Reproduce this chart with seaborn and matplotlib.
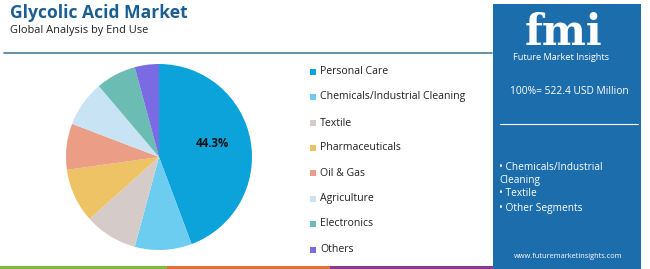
import matplotlib
matplotlib.use("Agg")
import matplotlib.pyplot as plt
import seaborn as sns
from matplotlib.patches import Rectangle

sns.set_theme(style="white")
plt.rcParams['font.family'] = ['Open Sans', 'DejaVu Sans']

categories = ["Personal Care", "Chemicals/Industrial Cleaning", "Textile", "Pharmaceuticals",
              "Oil & Gas", "Agriculture", "Electronics", "Others"]
shares = [44.3, 9.9, 9.2, 9.4, 8.0, 8.0, 7.0, 4.2]
colors = ["#0BA3DA", "#6DCDF1", "#D5CCCA", "#EDC365", "#EB9D85", "#C8E3F3", "#6BBDB3", "#7A6BE3"]
title = "Glycolic Acid Market"
subtitle = "Global Analysis by End Use"
total_label = "100%= 522.4 USD Million"
bullets = ["• Chemicals/Industrial", "Cleaning", "• Textile", "• Other Segments"]

W, H = 650, 269
fig = plt.figure(figsize=(6.5, 2.69), dpi=100)
fig.patch.set_facecolor("white")

def fx(x): return x / W
def fy(y): return 1 - y / H

# Title
fig.text(fx(10), fy(13), title, fontsize=12.6, fontweight="bold", color="#1B5E91", va="center", ha="left")
fig.text(fx(10), fy(31), subtitle, fontsize=7.9, color="#222222", va="center", ha="left")
fig.add_artist(plt.Line2D([fx(4), fx(492)], [fy(53), fy(53)], color="#4A7F96", lw=1.2))

# bottom strip
for x0, x1, c in [(0, 167, "#7DBB42"), (167, 330, "#E0703A"), (330, 493, "#8B3A8F")]:
    fig.add_artist(Rectangle((fx(x0), 0), fx(x1 - x0), 3 / H, color=c, lw=0))

# Pie
R = 93
cx, cy = 159, 157
ax = fig.add_axes([fx(cx - R), fy(cy + R), 2 * R / W, 2 * R / H])
wedges, _ = ax.pie(shares, colors=colors, startangle=90, counterclock=False,
                   wedgeprops=dict(linewidth=0))
ax.set_aspect("equal")
ax.set_xlim(-1, 1); ax.set_ylim(-1, 1)
ax.text(0.57, 0.15, f"{shares[0]}%", fontsize=8.3, fontweight="bold", color="#111111",
        ha="center", va="center")

# Legend
ys = [72, 97, 123, 148, 173, 199, 224, 250]
for y, lab, c in zip(ys, categories, colors):
    fig.add_artist(Rectangle((fx(310), fy(y + 3)), 6 / W, 6 / H, color=c, lw=0))
    fig.text(fx(320), fy(y), lab, fontsize=7.6, color="#222222", va="center", ha="left")

# Right panel
pax = fig.add_axes([fx(493), 0, fx(641 - 493), 1 - 4 / H])
pax.set_facecolor("#1C6DAC")
pax.set_xticks([]); pax.set_yticks([])
for s in pax.spines.values():
    s.set_visible(False)
fig.text(fx(564), fy(45), "fmi", fontsize=30, fontweight="bold", color="white",
         ha="center", va="baseline", family="DejaVu Serif")
fig.text(fx(561), fy(57), "Future Market Insights", fontsize=6.6, color="white", ha="center", va="center")
fig.text(fx(569), fy(91), total_label, fontsize=7.4, color="white", ha="center", va="center")
fig.add_artist(plt.Line2D([fx(500), fx(638)], [fy(124), fy(124)], color="white", lw=0.8))
for y, b in zip([167, 181, 194, 208], bullets):
    fig.text(fx(499), fy(y), b, fontsize=7.3, color="white", ha="left", va="center")
fig.text(fx(568), fy(257), "www.futuremarketinsights.com", fontsize=5.3, color="white", ha="center", va="center")

fig.savefig("out.png", dpi=100, facecolor="white")
